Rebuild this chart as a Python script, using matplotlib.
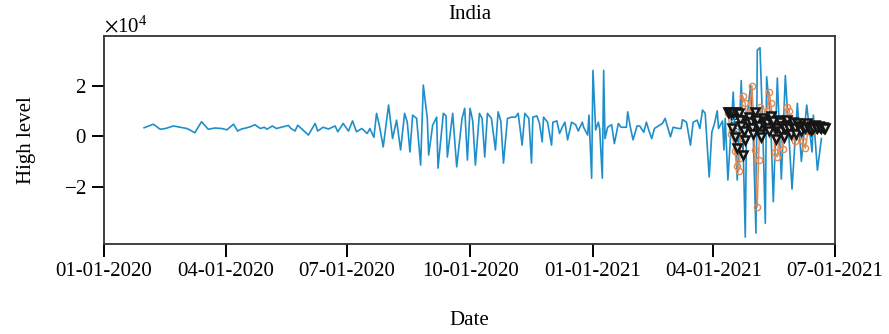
import numpy as np
import matplotlib.pyplot as plt
import matplotlib.dates as mdates
import matplotlib.ticker as mticker
import pandas as pd

plt.rcParams['font.family'] = ['Liberation Serif', 'DejaVu Serif']
plt.rcParams['mathtext.fontset'] = 'stix'

start = pd.Timestamp('2020-01-01')

# observed series: (day offset from 01-01-2020, value in 1e4)
obs_day = [30, 37, 42, 46, 52, 57, 62, 65, 68, 73, 78, 83, 88, 92, 97, 100, 103, 107,
           110, 113, 117, 120, 122, 126, 129, 132, 135, 138, 140, 143, 145, 153, 158,
           160, 164, 168, 173, 175, 179, 183, 186, 189, 193, 197, 199, 202, 204, 206,
           209, 213, 216, 219, 222, 225, 227, 229, 231, 234, 237, 239, 242, 243, 246,
           249, 250, 254, 256, 257, 261, 264, 268, 270, 272, 274, 276, 278, 281, 283,
           285, 287, 290, 293, 295, 297, 299, 302, 305, 308, 310, 313, 315, 318, 320,
           321, 324, 326, 328, 329, 332, 335, 336, 339, 341, 343, 345, 347, 350, 353,
           355, 358, 359, 362, 363, 365, 366, 368, 370, 371, 373, 374, 375, 377, 380,
           382, 385, 387, 389, 391, 392, 394, 396, 399, 401, 404, 406, 408, 410, 412,
           415, 418, 420, 424, 426, 430, 432, 433, 436, 439, 441, 444, 446, 448, 450,
           453, 455, 457, 459, 460, 463, 464, 465, 467, 469, 471, 474, 477, 478, 480,
           481, 484, 486, 488, 489, 491, 493, 495, 496, 499, 501, 504, 507, 510, 512,
           515, 519, 522, 526, 530, 531, 534, 537]
obs_val = [0.33, 0.47, 0.27, 0.30, 0.40, 0.35, 0.30, 0.22, 0.13, 0.57, 0.27, 0.32, 0.30,
           0.25, 0.47, 0.20, 0.28, 0.33, 0.38, 0.45, 0.30, 0.35, 0.27, 0.40, 0.30, 0.34,
           0.38, 0.42, 0.30, 0.20, 0.43, 0.04, 0.50, 0.20, 0.35, 0.28, 0.40, 0.17, 0.50,
           0.20, 0.60, 0.17, 0.30, 0.10, 0.30, -0.05, 0.90, 0.45, -0.43, 1.23, -0.10,
           0.63, -0.55, 0.90, 0.55, -0.63, 0.83, 0.70, -1.15, 2.02, 0.70, -0.75, 0.43,
           0.75, -1.27, 0.90, 0.80, -0.83, 0.90, -1.22, 0.70, 1.10, -0.95, 1.10, 0.60,
           -1.15, 0.90, 0.70, -0.83, 0.90, 0.70, -0.55, 0.96, 0.60, -1.07, 0.70, 0.75,
           0.75, 0.90, -0.36, 0.90, 0.70, -1.07, 0.75, 0.80, 0.50, -0.23, 0.75, 0.55,
           -0.36, 0.55, 0.60, 0.10, 0.35, 0.55, -0.15, 0.55, 0.45, 0.20, 0.55, 0.35,
           0.04, 0.83, -1.67, 2.60, 0.24, 0.55, 0.30, -1.67, 2.60, -0.10, 0.35, 0.45,
           -0.30, 0.50, 0.35, 0.35, 0.35, 0.96, 0.35, -0.15, 0.40, 0.40, 0.15, 0.55,
           0.20, -0.10, 0.30, 0.40, 0.50, 0.70, -0.03, 0.35, 0.30, 0.30, 0.65, 0.55,
           -0.36, 0.55, 0.63, 0.30, 1.03, 0.90, -1.62, 0.16, 0.50, 1.00, 0.30, 0.60,
           -0.55, 0.70, -1.74, 0.00, 1.74, -1.74, 2.20, 0.50, -4.00, 0.60, 2.00, 0.00,
           -3.84, 3.40, 3.50, 0.50, -3.45, 2.35, 0.60, -2.60, 2.30, -1.70, 2.40, 0.60,
           -2.10, 1.30, -1.00, 1.23, -0.63, 0.83, -1.35, -0.10]

# first forecast (orange circles)
fc1_day = [467, 469, 470, 472, 474, 475, 476, 478, 480, 481, 483, 485, 486, 487, 489,
           490, 491, 493, 495, 496, 498, 499, 501, 502, 504, 506, 508, 511, 513, 514,
           516, 517, 519, 521, 523, 525, 527, 529, 531, 534, 536]
fc1_val = [0.90, 0.10, 0.24, -0.60, -1.20, -1.40, -0.87, 1.60, 1.30, 0.60, 0.90, 2.00,
           1.00, -0.55, -2.80, -0.95, 1.15, 0.60, 0.40, 1.00, 1.74, 1.30, 0.60, -0.63,
           -0.83, 0.30, -0.50, 1.15, 1.00, 0.50, 0.30, -0.20, 0.40, 0.60, -0.20, -0.48,
           0.20, 0.50, 0.20, 0.30, 0.40]

# second forecast (black triangles), daily from day 467
fc2_val = [0.95, 0.95, 0.90, 0.30, 0.95, -0.03, 0.95, -0.47, 0.90, 0.63, 0.40, -0.75,
           0.20, -0.15, 0.63, 0.50, 0.75, 0.55, 0.30, 0.10, 0.95, 0.50, 0.63, 0.40, 0.10,
           -0.03, 0.70, 0.45, 0.60, 0.50, 0.30, 0.20, 0.80, 0.50, 0.60, 0.30, -0.10, 0.30,
           0.65, 0.55, 0.20, 0.40, -0.05, 0.30, 0.63, 0.40, 0.30, 0.10, 0.45, 0.55, 0.30,
           0.10, 0.50, 0.35, 0.40, 0.20, 0.35, 0.40, 0.30, 0.50, 0.35, 0.30, 0.25, 0.40,
           0.30, 0.45, 0.35, 0.30, 0.40, 0.35, 0.30, 0.35, 0.30, 0.30]
fc2_day = list(range(467, 467 + len(fc2_val)))


def to_dates(days):
    return start + pd.to_timedelta(days, unit='D')


fig = plt.figure(figsize=(8.89, 3.34), dpi=100)
ax = fig.add_axes([0.117, 0.269, 0.822, 0.623])

ax.plot(to_dates(obs_day), np.array(obs_val) * 1e4, color='#1f8fca', lw=1.2)
ax.plot(to_dates(fc1_day), np.array(fc1_val) * 1e4, color='#e08a55', lw=1.0,
        marker='o', ms=4.5, mfc='none', mec='#e08a55', mew=1.0)
ax.plot(to_dates(fc2_day), np.array(fc2_val) * 1e4, color='#333333', lw=0.8, ls=':',
        marker='v', ms=5.5, mfc='#dddddd', mec='#151515', mew=1.8)

ax.set_xlim(pd.Timestamp('2020-01-01'), pd.Timestamp('2021-07-01'))
ax.set_ylim(-4.28e4, 3.96e4)
ax.set_yticks([-2e4, 0, 2e4])
fmt = mticker.ScalarFormatter(useMathText=True)
fmt.set_powerlimits((4, 4))
ax.yaxis.set_major_formatter(fmt)
ax.yaxis.get_offset_text().set_fontsize(15)

ax.xaxis.set_major_locator(mdates.MonthLocator(bymonth=[1, 4, 7, 10]))
ax.xaxis.set_major_formatter(mdates.DateFormatter('%m-%d-%Y'))

ax.tick_params(direction='out', length=9, width=1.4, labelsize=15, color='black')
for s in ax.spines.values():
    s.set_color('#333333')
    s.set_linewidth(1.3)

ax.set_title('India', fontsize=15, pad=12)
ax.set_xlabel('Date', fontsize=15, labelpad=22)
ax.set_ylabel('High level', fontsize=15, labelpad=20)

plt.savefig('out.png', dpi=100)
